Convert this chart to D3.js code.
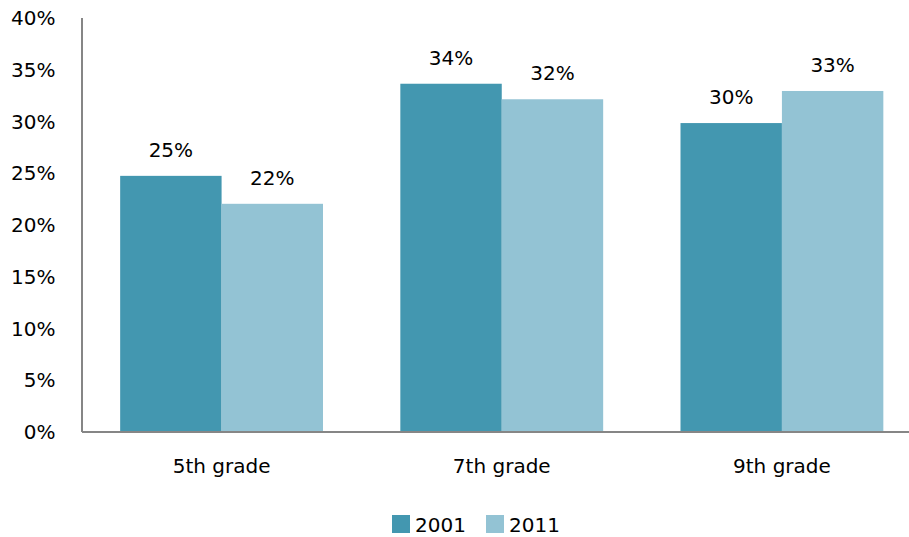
<!DOCTYPE html>
<html><head><meta charset="utf-8">
<script src="https://cdn.jsdelivr.net/npm/d3@7"></script>
<style>body{margin:0;background:#fff}svg{display:block}text{font-family:"DejaVu Sans",sans-serif;fill:#000}</style>
</head><body><svg id="c" width="909" height="537"></svg>
<script>
const categories = ["5th grade", "7th grade", "9th grade"];
const seriesNames = ["2001", "2011"];
const values2001 = [24.7, 33.6, 29.8];
const values2011 = [22.0, 32.1, 32.9];
const labels2001 = ["25%", "34%", "30%"];
const labels2011 = ["22%", "32%", "33%"];
const yTicks = [0, 5, 10, 15, 20, 25, 30, 35, 40];
const colors = ["#4397b0", "#93c3d4"];

(function () {
const svg = d3.select("#c");
const mLeft = 81.5, mRight = 922, mTop = 17.5, mBottom = 431.5;
const y = d3.scaleLinear().domain([0, 40]).range([mBottom, mTop]);
const x = d3.scaleBand().domain(categories).range([mLeft, mRight]).paddingInner(0.276).paddingOuter(0.138);
const xs = d3.scaleBand().domain(seriesNames).range([0, x.bandwidth()]);

const series = [values2001, values2011];
const labs = [labels2001, labels2011];
const g = svg.append("g");
seriesNames.forEach((s, si) => {
  g.selectAll(".b" + si).data(categories).enter().append("rect")
    .attr("x", c => x(c) + xs(s))
    .attr("width", xs.bandwidth())
    .attr("y", (c, i) => y(series[si][i]))
    .attr("height", (c, i) => mBottom - y(series[si][i]))
    .attr("fill", colors[si]);
  g.selectAll(".l" + si).data(categories).enter().append("text")
    .attr("x", c => x(c) + xs(s) + xs.bandwidth() / 2)
    .attr("y", (c, i) => y(series[si][i]) - 19)
    .attr("text-anchor", "middle").style("font-size", "20px")
    .text((c, i) => labs[si][i]);
});

const ya = svg.append("g").attr("transform", `translate(${mLeft},0)`)
  .call(d3.axisLeft(y).tickValues(yTicks).tickSize(0).tickPadding(26).tickFormat(d => d + "%"));
ya.select(".domain").attr("stroke", "#868686").attr("stroke-width", 2);
ya.selectAll("text").style("font-size", "20px").attr("fill", "#000").attr("dy", "0.35em");

const xa = svg.append("g").attr("transform", `translate(0,${mBottom})`)
  .call(d3.axisBottom(x).tickSize(0).tickPadding(27));
xa.select(".domain").attr("stroke", "#868686").attr("stroke-width", 2);
xa.selectAll("text").style("font-size", "20px").attr("fill", "#000");

const lg = svg.append("g");
const lx = [392, 486];
seriesNames.forEach((s, i) => {
  lg.append("rect").attr("x", lx[i]).attr("y", 515).attr("width", 18).attr("height", 18).attr("fill", colors[i]);
  lg.append("text").attr("x", lx[i] + 23).attr("y", 532).style("font-size", "20px").text(s);
});
})();
</script></body></html>
